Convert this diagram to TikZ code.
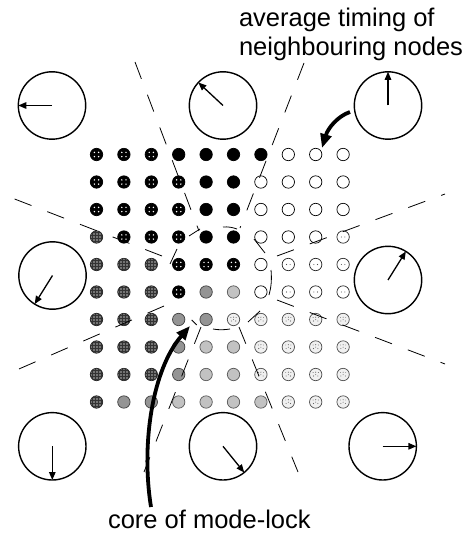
\documentclass[tikz,border=0pt]{standalone}
\usepackage{fontspec}
\setmainfont{Liberation Sans}
\usetikzlibrary{arrows.meta}
\tikzset{
  dotbase/.style={circle, inner sep=0pt, outer sep=0pt, minimum size=12.4pt, line width=0.7pt},
  dotA/.style={dotbase, draw=black, fill=black},
  dotB/.style={dotbase, draw=black, fill=black, path picture={
     \fill[white] ([xshift=-2.1pt,yshift=-2.1pt]path picture bounding box.center) circle (0.8pt);
     \fill[white] ([xshift=2.1pt,yshift=-2.1pt]path picture bounding box.center) circle (0.8pt);
     \fill[white] ([xshift=-2.1pt,yshift=2.1pt]path picture bounding box.center) circle (0.8pt);
     \fill[white] ([xshift=2.1pt,yshift=2.1pt]path picture bounding box.center) circle (0.8pt);}},
  dotC/.style={dotbase, draw=black, fill=white},
  dotH/.style={dotbase, draw=black!85, fill=white, path picture={
     \fill[black!70] ([xshift=-1.8pt]path picture bounding box.center) circle (0.55pt);
     \fill[black!70] ([xshift=1.8pt]path picture bounding box.center) circle (0.55pt);}},
  dotD/.style={dotbase, draw=black!70, fill=black!6, path picture={
     \fill[black!60] ([xshift=-2.2pt,yshift=-1.5pt]path picture bounding box.center) circle (0.55pt);
     \fill[black!60] ([xshift=2.2pt,yshift=-1.5pt]path picture bounding box.center) circle (0.55pt);
     \fill[black!60] ([xshift=0pt,yshift=2.3pt]path picture bounding box.center) circle (0.55pt);
     \fill[black!60] ([xshift=0pt,yshift=-0.2pt]path picture bounding box.center) circle (0.5pt);
     \fill[black!60] ([xshift=-2.6pt,yshift=2pt]path picture bounding box.center) circle (0.45pt);
     \fill[black!60] ([xshift=2.6pt,yshift=2pt]path picture bounding box.center) circle (0.45pt);}},
  dotE/.style={dotbase, draw=black!85, fill=black!55, path picture={
     \foreach \t in {-4.5,-1.5,1.5,4.5} {
       \draw[black!80, line width=0.5pt] ([xshift=\t pt,yshift=-7pt]path picture bounding box.center) -- ([xshift=\t pt,yshift=7pt]path picture bounding box.center);
       \draw[black!80, line width=0.5pt] ([xshift=-7pt,yshift=\t pt]path picture bounding box.center) -- ([xshift=7pt,yshift=\t pt]path picture bounding box.center);}}},
  dotF/.style={dotbase, draw=black!75, fill=black!42},
  dotG/.style={dotbase, draw=black!65, fill=black!24},
  clock/.style={circle, draw=black, line width=1.4pt, minimum size=67.4pt, inner sep=0pt, outer sep=0pt},
  hand/.style={line width=1.3pt, -{Triangle[length=8pt,width=6.5pt]}},
  bigarrow/.style={line width=3.8pt, -{Triangle[length=14pt,width=11pt]}},
  dashline/.style={line width=0.8pt, dash pattern=on 18pt off 17pt},
  loopdash/.style={line width=0.8pt},
  lbl/.style={inner sep=0pt, outer sep=0pt, font=\fontsize{25.5}{30}\selectfont}
}
\begin{document}
\begin{tikzpicture}[x=1pt,y=-1pt]
\useasboundingbox (0,0) rectangle (475,534);

% grid of nodes
\foreach \codes [count=\r] in {
  {B,B,B,A,A,A,A,C,C,C},
  {B,B,B,B,A,A,C,C,C,C},
  {B,B,B,B,A,A,C,C,C,C},
  {E,B,B,B,A,A,C,C,C,H},
  {E,E,E,B,B,B,C,H,H,H},
  {E,E,E,B,F,G,C,H,H,H},
  {E,E,E,F,F,D,D,D,D,D},
  {E,E,E,F,G,G,D,D,D,D},
  {E,E,E,F,G,G,D,D,D,D},
  {E,F,F,G,G,G,G,D,D,D}} {
  \foreach \k [count=\c] in \codes {
    \node[dot\k] (d-\r-\c) at ({96.5+27.4*(\c-1)},{154.5+27.5*(\r-1)}) {};
  }
}

% clocks
\node[clock] (cTL) at (52,105.5) {};
\node[clock] (cTM) at (223,105.5) {};
\node[clock] (cTR) at (388,105.5) {};
\node[clock] (cML) at (52.5,275.5) {};
\node[clock] (cMR) at (388,280) {};
\node[clock] (cBL) at (52.3,446.3) {};
\node[clock] (cBM) at (223,446.3) {};
\node[clock] (cBR) at (382.7,446.3) {};

\draw[hand] (cTL.center) -- (cTL.180);
\draw[hand] (cTM.center) -- (cTM.137);
\draw[hand] (cTR.center) -- (cTR.90);
\draw[hand] (cML.center) -- (cML.238);
\draw[hand] (cMR.center) -- (cMR.58);
\draw[hand] (cBL.center) -- (cBL.270);
\draw[hand] (cBM.center) -- (cBM.-51);
\draw[hand] (cBR.center) -- (cBR.0);

% radial dashed boundaries
\coordinate (r1a) at (135,62);  \coordinate (r1b) at (199,231);
\coordinate (r2a) at (304,63);  \coordinate (r2b) at (240,228);
\coordinate (r3a) at (277,256); \coordinate (r3b) at (445,194);
\coordinate (r4a) at (277,300); \coordinate (r4b) at (445,364);
\coordinate (r5a) at (239,327); \coordinate (r5b) at (298,472);
\coordinate (r6a) at (201,327); \coordinate (r6b) at (144,472);
\coordinate (r7a) at (164,306); \coordinate (r7b) at (12,372);
\coordinate (r8a) at (162,256); \coordinate (r8b) at (12,198);
\draw[dashline] (r1a) -- (r1b);
\draw[dashline] (r2a) -- (r2b);
\draw[dashline] (r3a) -- (r3b);
\draw[dashline] (r4a) -- (r4b);
\draw[dashline] (r5a) -- (r5b);
\draw[dashline] (r6a) -- (r6b);
\draw[dashline] (r7a) -- (r7b);
\draw[dashline] (r8a) -- (r8b);

% dashed loop round the core
\draw[loopdash]
  (177,249) -- (170,264)
  (189,236) -- (200,229)
  (223,227) .. controls (228,226.5) and (233,227.5) .. (237,229)
  (254,239) -- (265,253)
  (271,270) .. controls (272,280) and (271,288) .. (269,295)
  (260,311) -- (248,322)
  (230,329) .. controls (224,330) and (218,330) .. (213,329)
  (196.7,325) -- (191.7,320);

% curved arrows
\coordinate (nbS) at (350,112); \coordinate (nbE) at (322,148);
\draw[bigarrow] (nbS) .. controls (338,116) and (328,128) .. (nbE);
\coordinate (cmS) at (151,507); \coordinate (cmE) at (190,326);
\draw[bigarrow] (cmS) .. controls (141,445) and (152,370) .. (cmE);

% labels
\node[lbl, anchor=base west] (t1) at (239,26.7) {average timing of};
\node[lbl, anchor=base west] (t2) at (239,56) {neighbouring nodes};
\node[lbl, anchor=base west] (t3) at (108,528) {core of mode-lock};
\end{tikzpicture}
\end{document}
